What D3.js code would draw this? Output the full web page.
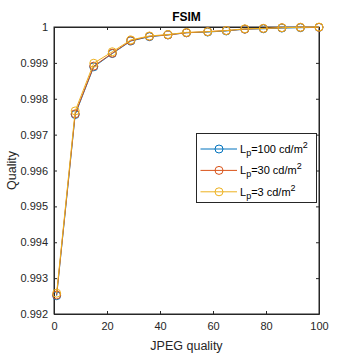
<!DOCTYPE html>
<html lang="en">
<head>
    <meta charset="UTF-8">
    <title>FSIM</title>
    <script src="https://d3js.org/d3.v7.min.js"></script>
    <style>
        body { margin: 0; background: #fff; }
        svg { font-family: "Liberation Sans", Arial, sans-serif; }
    </style>
    <script>
        let jpegQuality = [1, 8, 15, 22, 29, 36, 43, 50, 58, 65, 72, 79, 86, 93, 100];

        let lp100 = [0.99251, 0.99756, 0.99889, 0.99926, 0.99961, 0.99973, 0.99978, 0.99984, 0.99986, 0.99989, 0.99994, 0.99995, 0.99997, 0.99998, 0.99999];
        let lp30 = [0.99253, 0.99758, 0.99891, 0.99927, 0.99962, 0.99974, 0.99978, 0.99984, 0.99987, 0.99990, 0.99994, 0.99996, 0.99998, 0.99999, 0.99999];
        let lp3 = [0.99258, 0.99766, 0.99899, 0.99931, 0.99964, 0.99975, 0.99979, 0.99985, 0.99987, 0.99990, 0.99995, 0.99996, 0.99998, 0.99999, 1.00000];

        let seriesNames = ["100", "30", "3"];
        let seriesColors = ["#0072BD", "#D95319", "#EDB120"];

        let xTicks = [0, 20, 40, 60, 80, 100];
        let yTicks = [0.992, 0.993, 0.994, 0.995, 0.996, 0.997, 0.998, 0.999, 1];

        document.addEventListener("DOMContentLoaded", function() {
            drawChart();
        });

        function drawChart() {
            const margins = {top: 27, right: 35, bottom: 40, left: 54};
            const width = 354 - margins.left - margins.right;
            const height = 354 - margins.top - margins.bottom;

            let root = d3.select("svg").attr("width", 354).attr("height", 354);
            let svg = root.append("g")
                .attr("transform", "translate(" + margins.left + "," + margins.top + ")");

            let x = d3.scaleLinear().domain([0, 100]).range([0, width]);
            let y = d3.scaleLinear().domain([0.992, 1]).range([height, 0]);

            function styleAxis(g) {
                g.selectAll("path, line").attr("stroke", "#262626");
                g.selectAll("text").attr("fill", "#262626").style("font-size", "11px");
                g.attr("font-family", null);
            }

            svg.append("g")
                .attr("transform", `translate(0,${height})`)
                .call(d3.axisBottom(x).tickValues(xTicks).tickSizeInner(-3).tickSizeOuter(0).tickPadding(8))
                .call(styleAxis);
            svg.append("g")
                .call(d3.axisTop(x).tickValues(xTicks).tickSizeInner(-3).tickSizeOuter(0).tickFormat(""))
                .call(styleAxis);
            svg.append("g")
                .call(d3.axisLeft(y).tickValues(yTicks).tickSizeInner(-3).tickSizeOuter(0).tickPadding(6)
                    .tickFormat(d => d === 1 ? "1" : d3.format(".3f")(d)))
                .call(styleAxis);
            svg.append("g")
                .attr("transform", `translate(${width},0)`)
                .call(d3.axisRight(y).tickValues(yTicks).tickSizeInner(-3).tickSizeOuter(0).tickFormat(""))
                .call(styleAxis);

            svg.append("rect")
                .attr("width", width).attr("height", height)
                .attr("fill", "none").attr("stroke", "#262626").attr("stroke-width", 1);

            const line = d3.line()
                .x(d => x(d[0]))
                .y(d => y(d[1]));

            [lp100, lp30, lp3].forEach(function(vals, i) {
                let data = jpegQuality.map((q, j) => [q, vals[j]]);
                svg.append("path")
                    .datum(data)
                    .attr("d", line)
                    .attr("fill", "none")
                    .attr("stroke", seriesColors[i])
                    .attr("stroke-width", 1);
                svg.selectAll(".pt" + i)
                    .data(data)
                    .join("circle")
                    .attr("class", "pt" + i)
                    .attr("cx", d => x(d[0]))
                    .attr("cy", d => y(d[1]))
                    .attr("r", 4)
                    .attr("fill", "none")
                    .attr("stroke", seriesColors[i])
                    .attr("stroke-width", 1);
            });

            root.append("text")
                .attr("x", margins.left + width / 2).attr("y", 21)
                .attr("text-anchor", "middle")
                .style("font-size", "12px").style("font-weight", "bold")
                .attr("fill", "#000")
                .text("FSIM");

            root.append("text")
                .attr("x", margins.left + width / 2).attr("y", 350)
                .attr("text-anchor", "middle")
                .style("font-size", "12.5px")
                .attr("fill", "#262626")
                .text("JPEG quality");

            root.append("text")
                .attr("transform", `translate(16,${margins.top + height / 2}) rotate(-90)`)
                .attr("text-anchor", "middle")
                .style("font-size", "12.5px")
                .attr("fill", "#262626")
                .text("Quality");

            let legend = root.append("g");
            legend.append("rect")
                .attr("x", 196.5).attr("y", 133.5).attr("width", 120).attr("height", 69)
                .attr("fill", "#fff").attr("stroke", "#262626").attr("stroke-width", 1);

            seriesNames.forEach(function(name, i) {
                let ly = 149 + i * 21.4;
                legend.append("line")
                    .attr("x1", 200.5).attr("x2", 237).attr("y1", ly).attr("y2", ly)
                    .attr("stroke", seriesColors[i]);
                legend.append("circle")
                    .attr("cx", 219).attr("cy", ly).attr("r", 4)
                    .attr("fill", "none").attr("stroke", seriesColors[i]);
                let t = legend.append("text")
                    .attr("x", 240).attr("y", ly + 4)
                    .style("font-size", "11px")
                    .attr("fill", "#000");
                t.append("tspan").text("L");
                t.append("tspan").attr("dy", 3).style("font-size", "9px").text("p");
                t.append("tspan").attr("dy", -3).text("=" + name + " cd/m");
                t.append("tspan").attr("dy", -5).style("font-size", "9px").text("2");
            });
        }
    </script>
</head>
<body>
    <svg></svg>
</body>
</html>
